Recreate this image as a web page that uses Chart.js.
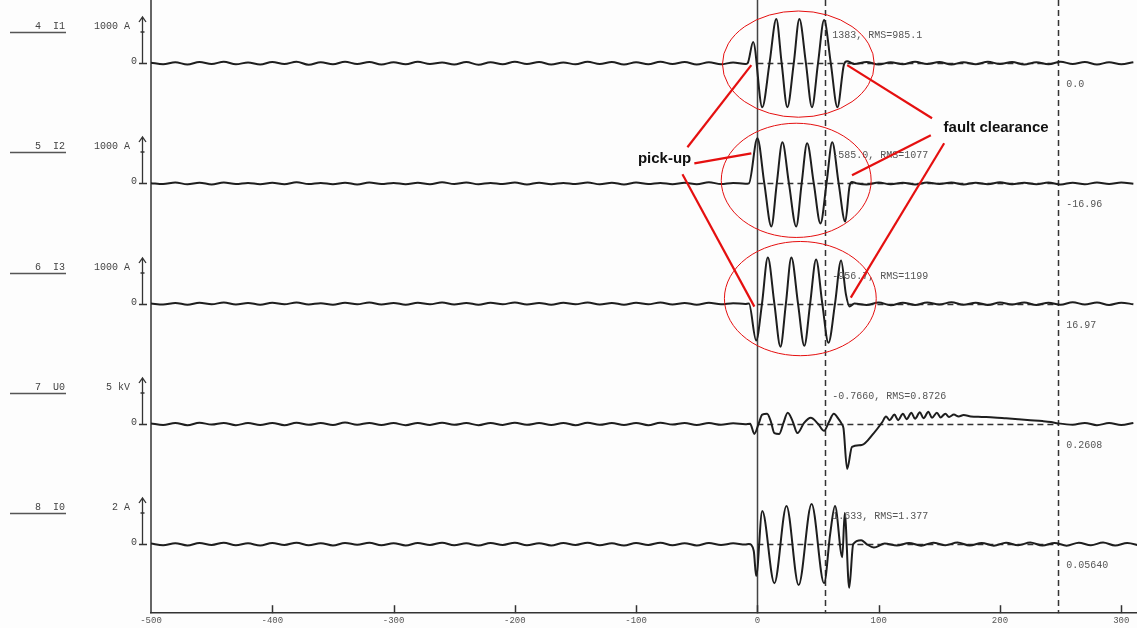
<!DOCTYPE html>
<html>
<head>
<meta charset="utf-8">
<script src="https://cdn.jsdelivr.net/npm/chart.js@4.4.0/dist/chart.umd.min.js"></script>
<style>
html, body { margin: 0; padding: 0; background: #fff; }
canvas { display: block; }
</style>
</head>
<body>
<canvas id="myChart" width="1137" height="628"></canvas>
<script>
// time axis (ms)
const timeMin = -500;
const timeMax = 313;
const timeStep = 100;
const cursors = [0, 56, 248];

// channels
const channelNames = ['4  I1', '5  I2', '6  I3', '7  U0', '8  I0'];
const scaleLabels = ['1000 A', '1000 A', '1000 A', '5 kV', '2 A'];
const fullScale = [1000, 1000, 1000, 5, 2];
const cursorReadouts = ['1383, RMS=985.1', '-585.0, RMS=1077', '-956.7, RMS=1199', '-0.7660, RMS=0.8726', '1.633, RMS=1.377'];
const rightValues = ['0.0', '-16.96', '16.97', '0.2608', '0.05640'];

// ripple samples, one every 10 ms
const rippleStep = 10;
const afterStart = [80, 90, 90, 260, 105];

const i1Before = [10,-25,20,-30,25,-20,30,-25,15,-30, 25,-20,30,-35,20,-25,30,-20,25,-30, 20,-25,30,-20,15,-30,25,-35,20,-25, 30,-20,25,-30,15,-25,30,-20,25,-30, 20,-25,30,-20,25,-30,20,-25,15,-20];
const i1Fault = [[-8,0],[-3.5,460],[4,-957],[10,0],[15.6,957],[20,0],[24.7,-957],[30,0],[34.6,957],[40,0],[45,-957],[50,0],[55,935],[60.5,0],[66,-957],[71.5,-20],[74,40],[78,0]];
const i1After = [-20,25,-30,20,-25,30,-20,25,-30,20,-25,30,-20,25,-30,20,-25,30,-20,25,-30,20,-25,20];

const i2Before = [5,-15,20,-20,15,-25,20,-15,10,-20, 15,-20,25,-15,10,-20,15,-25,20,-15, 10,-20,15,-20,25,-15,20,-20,10,-15, 20,-25,15,-20,10,-15,20,-20,15,-25, 20,-15,10,-20,15,-20,25,-15,10,-10];
const i2Fault = [[-7,0],[0,978],[5.7,0],[11.5,-935],[16,0],[20.6,890],[26,0],[32,-935],[36.5,0],[41,870],[46.5,0],[52,-870],[57,0],[61.7,890],[67,0],[72.4,-830],[76,-60],[78,30],[82,0]];
const i2After = [-25,20,-20,15,-25,20,-15,20,-25,15,-20,25,-20,15,-20,20,-25,15,-20,20,-15,20,-10];

const i3Before = [0,-20,15,-25,20,-15,25,-20,15,-25, 20,-15,25,-20,10,-25,20,-15,25,-20, 15,-25,20,-15,25,-20,15,-25,20,-15, 25,-20,15,-25,20,-15,25,-20,15,-25, 20,-15,25,-20,15,-25,20,-15,10,-10];
const i3Fault = [[-7,0],[-1,-800],[3.8,0],[8.6,1000],[14,0],[19,-935],[23.5,0],[28,1000],[33.5,0],[38.7,-915],[43.5,0],[48.4,957],[53.5,0],[58.6,-850],[64,0],[69,935],[73,200],[76,-65],[80,0]];
const i3After = [-30,25,-35,20,-30,25,-20,30,-25,20,-30,25,-20,25,-30,20,-25,30,-20,25,-30,20,-15];

const u0Before = [0.05,-0.12,0.1,-0.15,0.12,-0.08,0.1,-0.15,0.08,-0.12, 0.1,-0.15,0.12,-0.1,0.08,-0.12,0.15,-0.1,0.1,-0.12, 0.08,-0.15,0.1,-0.12,0.12,-0.1,0.08,-0.15,0.1,-0.12, 0.12,-0.1,0.08,-0.12,0.1,-0.15,0.12,-0.1,0.08,-0.12, 0.1,-0.15,0.12,-0.08,0.1,-0.12,0.08,-0.1,0.05,-0.05];
const u0Fault = [[-6,0],[-2.5,-1.09],[1,0],[4,1.0],[8,1.09],[11,0.3],[14,-1.0],[18,-1.09],[21.5,0.1],[25,1.2],[29,0.3],[33,-1.0],[38.5,0.1],[44,0.65],[50,0],[55,-0.76],[59,0.2],[63,1.09],[67,0.5],[69.5,0],[71,-0.5],[74,-4.9],[78,-2.5],[86,-2.3],[96,-1.0],[103,0.2],[106,0.8],[109,0.4],[113,1.0],[116,0.4],[120,1.1],[123,0.5],[127,1.2],[130,0.55],[134,1.25],[137,0.6],[141,1.3],[144,0.65],[148,1.2],[151,0.7],[155,1.1],[158,0.75],[162,1.0],[166,0.8],[170,0.95],[176,0.8],[185,0.75],[195,0.7],[205,0.6],[215,0.5],[225,0.4],[235,0.3],[242,0.2],[248,0.05]];
const u0After = [-0.1,0.1,-0.15,0.08,-0.12,0.1];

const i0Before = [0.02,-0.05,0.04,-0.06,0.05,-0.04,0.06,-0.05,0.03,-0.06, 0.05,-0.04,0.06,-0.05,0.04,-0.06,0.05,-0.03,0.06,-0.05, 0.04,-0.06,0.05,-0.04,0.06,-0.05,0.03,-0.06,0.05,-0.04, 0.06,-0.05,0.04,-0.06,0.05,-0.04,0.06,-0.05,0.03,-0.06, 0.05,-0.04,0.06,-0.05,0.04,-0.06,0.05,-0.04,0.03,-0.02];
const i0Fault = [[-7,0],[-3,-0.3],[-1,-1.39],[4,1.43],[14,-1.7],[24,1.65],[34,-1.78],[44.7,1.74],[55,-1.7],[60,0.43],[64,1.65],[70,-0.57],[72,1.35],[75.7,-1.9],[79,0],[85.6,0.17],[90,0],[96,-0.15]];
const i0After = [0.02,-0.06,0.05,-0.07,0.06,-0.05,0.07,-0.06,0.05,-0.07,0.06,-0.05,0.07,-0.06,0.05,-0.07,0.06,-0.05,0.07,-0.06,0.05,-0.06];

// hand-drawn notes, in [ms, row units]
const pickupLabel = { t: -76.5, y: 453, text: 'pick-up' };
const pickupLines = [[-57.7, 465, -5, 547], [-52, 449, -5, 459], [-61.8, 438, -2.5, 306]];
const clearanceLabel = { t: 196.8, y: 484, text: 'fault clearance' };
const clearanceLines = [[144, 494, 74, 547], [143, 477, 78, 437], [154, 469, 77, 315]];
const faultEllipses = [[33.8, 548, 62.6, 53], [32, 432, 61.8, 57], [35.4, 314, 62.6, 57]];

// layout of the stacked rows
const rowTop = 612;
const baselines = [549, 429, 309, 189, 69];
const unitsPerScale = 46;

const traces = [
    [i1Before, i1Fault, i1After],
    [i2Before, i2Fault, i2After],
    [i3Before, i3Fault, i3After],
    [u0Before, u0Fault, u0After],
    [i0Before, i0Fault, i0After]
];

function buildTrace(parts, k) {
    const pts = [];
    parts[0].forEach((v, i) => pts.push([timeMin + i * rippleStep, v]));
    parts[1].forEach(p => pts.push(p));
    parts[2].forEach((v, i) => pts.push([afterStart[k] + i * rippleStep, v]));
    return pts.map(p => ({ x: p[0], y: baselines[k] + p[1] / fullScale[k] * unitsPerScale }));
}

const monoFont = '"Liberation Mono", "DejaVu Sans Mono", monospace';

const drawPlugin = {
    id: 'recorder',
    beforeDraw(chart) {
        const ctx = chart.ctx;
        ctx.save();
        ctx.fillStyle = '#fdfdfd';
        ctx.fillRect(0, 0, chart.width, chart.height);
        ctx.restore();
    },
    beforeDatasetsDraw(chart) {
        const ctx = chart.ctx;
        const x = chart.scales.x, y = chart.scales.y;
        const area = chart.chartArea;
        ctx.save();
        // left axis
        ctx.strokeStyle = '#333';
        ctx.lineWidth = 1.5;
        ctx.beginPath();
        ctx.moveTo(area.left, area.top);
        ctx.lineTo(area.left, area.bottom);
        ctx.stroke();
        // cursors
        cursors.forEach((c, i) => {
            const px = Math.round(x.getPixelForValue(c)) + 0.5;
            ctx.setLineDash(i === 0 ? [] : [6, 4]);
            ctx.strokeStyle = i === 0 ? '#444' : '#333';
            ctx.lineWidth = 1.5;
            ctx.beginPath();
            ctx.moveTo(px, area.top);
            ctx.lineTo(px, area.bottom);
            ctx.stroke();
        });
        // zero lines between cursors
        ctx.setLineDash([6, 4]);
        ctx.lineWidth = 1.3;
        baselines.forEach(b => {
            const py = Math.round(y.getPixelForValue(b)) + 0.5;
            ctx.beginPath();
            ctx.moveTo(x.getPixelForValue(cursors[0]), py);
            ctx.lineTo(x.getPixelForValue(cursors[2]), py);
            ctx.stroke();
        });
        ctx.restore();
    },
    afterDraw(chart) {
        const ctx = chart.ctx;
        const x = chart.scales.x, y = chart.scales.y;
        const area = chart.chartArea;
        ctx.save();
        // inward ticks on the time axis
        ctx.strokeStyle = '#333';
        ctx.lineWidth = 1.5;
        x.ticks.forEach(t => {
            if (t.value === timeMin) return;
            const px = Math.round(x.getPixelForValue(t.value)) + 0.5;
            ctx.beginPath();
            ctx.moveTo(px, area.bottom - 8);
            ctx.lineTo(px, area.bottom);
            ctx.stroke();
        });

        ctx.font = '10px ' + monoFont;
        ctx.textBaseline = 'middle';
        const c1 = x.getPixelForValue(cursors[1]);
        const c2 = x.getPixelForValue(cursors[2]);
        baselines.forEach((b, k) => {
            const bp = Math.round(y.getPixelForValue(b));
            // channel name and underline
            ctx.fillStyle = '#444';
            ctx.textAlign = 'right';
            ctx.fillText(channelNames[k], 65, bp - 37);
            ctx.fillText(scaleLabels[k], 130, bp - 37);
            ctx.fillText('0', 137, bp - 2);
            ctx.strokeStyle = '#555';
            ctx.lineWidth = 1.5;
            ctx.beginPath();
            ctx.moveTo(10, bp - 30.5);
            ctx.lineTo(66, bp - 30.5);
            ctx.stroke();
            // scale arrow
            ctx.strokeStyle = '#333';
            ctx.lineWidth = 1.3;
            ctx.beginPath();
            ctx.moveTo(142.5, bp);
            ctx.lineTo(142.5, bp - 45);
            ctx.moveTo(139, bp - 41);
            ctx.lineTo(142.5, bp - 46);
            ctx.lineTo(146, bp - 41);
            ctx.moveTo(140.5, bp - 31);
            ctx.lineTo(144.5, bp - 31);
            ctx.moveTo(139, bp + 0.5);
            ctx.lineTo(147, bp + 0.5);
            ctx.stroke();
            // readouts
            ctx.fillStyle = '#555';
            ctx.textAlign = 'left';
            ctx.fillText(cursorReadouts[k], c1 + 7, bp - 28);
            ctx.fillText(rightValues[k], c2 + 8, bp + 21);
        });

        // red notes
        const px = t => x.getPixelForValue(t);
        const py = v => y.getPixelForValue(v);
        ctx.strokeStyle = '#e51010';
        ctx.lineWidth = 1;
        faultEllipses.forEach(e => {
            const cx = px(e[0]), cy = py(e[1]);
            const rx = px(e[0] + e[2]) - cx;
            const ry = py(e[1]) - py(e[1] + e[3]);
            ctx.beginPath();
            ctx.ellipse(cx, cy, rx, ry, 0, 0, Math.PI * 2);
            ctx.stroke();
        });
        ctx.lineWidth = 2.2;
        pickupLines.concat(clearanceLines).forEach(l => {
            ctx.beginPath();
            ctx.moveTo(px(l[0]), py(l[1]));
            ctx.lineTo(px(l[2]), py(l[3]));
            ctx.stroke();
        });
        ctx.fillStyle = '#111';
        ctx.font = 'bold 15px "Liberation Sans", Arial, sans-serif';
        ctx.textAlign = 'center';
        [pickupLabel, clearanceLabel].forEach(n => {
            ctx.fillText(n.text, px(n.t), py(n.y));
        });
        ctx.restore();
    }
};

const ctx = document.getElementById('myChart');
new Chart(ctx, {
    type: 'line',
    data: {
        datasets: traces.map((parts, k) => ({
            label: channelNames[k],
            data: buildTrace(parts, k),
            borderColor: '#1e1e1e',
            borderWidth: 2,
            pointRadius: 0,
            cubicInterpolationMode: 'monotone',
            fill: false
        }))
    },
    options: {
        responsive: false,
        animation: false,
        layout: { padding: { left: 151, right: 0, top: 0, bottom: 0 } },
        plugins: {
            legend: { display: false },
            tooltip: { enabled: false }
        },
        scales: {
            x: {
                type: 'linear',
                min: timeMin,
                max: timeMax,
                grid: { display: false, drawTicks: false },
                border: { display: true, color: '#333', width: 1.5 },
                ticks: {
                    stepSize: timeStep,
                    includeBounds: false,
                    maxRotation: 0,
                    autoSkip: false,
                    padding: 2,
                    color: '#555',
                    font: { family: monoFont, size: 9 }
                }
            },
            y: {
                display: false,
                min: 0,
                max: rowTop
            }
        }
    },
    plugins: [drawPlugin]
});
</script>
</body>
</html>
